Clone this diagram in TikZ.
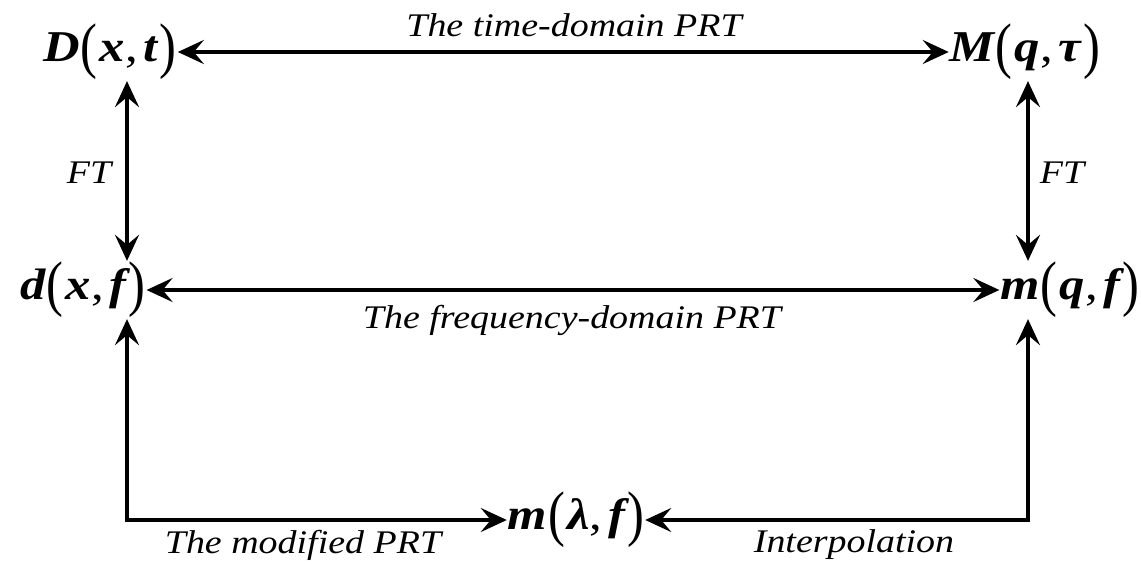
\documentclass[tikz,border=0pt]{standalone}
\usepackage{fontspec}
\setmainfont{Liberation Serif}
\newfontfamily\termfont[FakeStretch=1.15]{Liberation Serif}
\newfontfamily\labfont[FakeStretch=1.15]{Liberation Serif}
\usetikzlibrary{arrows.meta}

% tall upright parentheses around the arguments
\newcommand\lpar{\raisebox{-5pt}{\scalebox{1}[1.4]{\mdseries\upshape(}}}
\newcommand\rpar{\raisebox{-5pt}{\scalebox{1}[1.4]{\mdseries\upshape)}}}
\newcommand\bi[1]{{\bfseries\itshape #1}}
\newcommand\fn[3]{\bi{#1}\kern1pt\lpar\kern2pt\bi{#2},\kern6pt\bi{#3}\kern2pt\rpar}

\tikzset{
  term/.style={font=\fontsize{44}{44}\selectfont\termfont, inner sep=1pt},
  lab/.style={font=\fontsize{33}{33}\selectfont\labfont\itshape, inner sep=0pt},
  tip/.tip={Stealth[length=26pt,width=24pt,inset=10pt]},
  arr/.style={line width=3.6pt, line join=miter, tip-tip},
}

\begin{document}
\begin{tikzpicture}[x=1pt,y=-1pt]
  \useasboundingbox (0,0) rectangle (1141,564);

  % the five transforms
  \node[term] (D)  at (110,52)  {\fn{D}{x}{t}};
  \node[term] (M)  at (1025,52) {\fn{M}{q}{\char"03C4}};
  \node[term] (d)  at (83,290)  {\fn{d}{x}{f}};
  \node[term] (mq) at (1070,290) {\fn{m}{q}{f}};
  \node[term] (ml) at (576,520) {\fn{m}{\char"03BB}{f}};

  % columns of the vertical connectors
  \coordinate (lx) at (127,0);
  \coordinate (rx) at (1028,0);

  \draw[arr] (D) -- (M);
  \draw[arr] (d) -- (mq);
  \draw[arr] (D.south -| lx) -- (d.north -| lx);
  \draw[arr] (M.south -| rx) -- (mq.north -| rx);
  \draw[arr] (d.south -| lx) |- (ml.west);
  \draw[arr] (mq.south -| rx) |- (ml.east);

  % connector labels
  \node[lab] (ltime) at (574,25)  {The time-domain PRT};
  \node[lab] (lfreq) at (572,320) {The frequency-domain PRT};
  \node[lab] (lft1)  at (89,173)  {FT};
  \node[lab] (lft2)  at (1062,173) {FT};
  \node[lab] (lmod)  at (303,545) {The modified PRT};
  \node[lab] (lint)  at (854,545) {Interpolation};
\end{tikzpicture}
\end{document}
